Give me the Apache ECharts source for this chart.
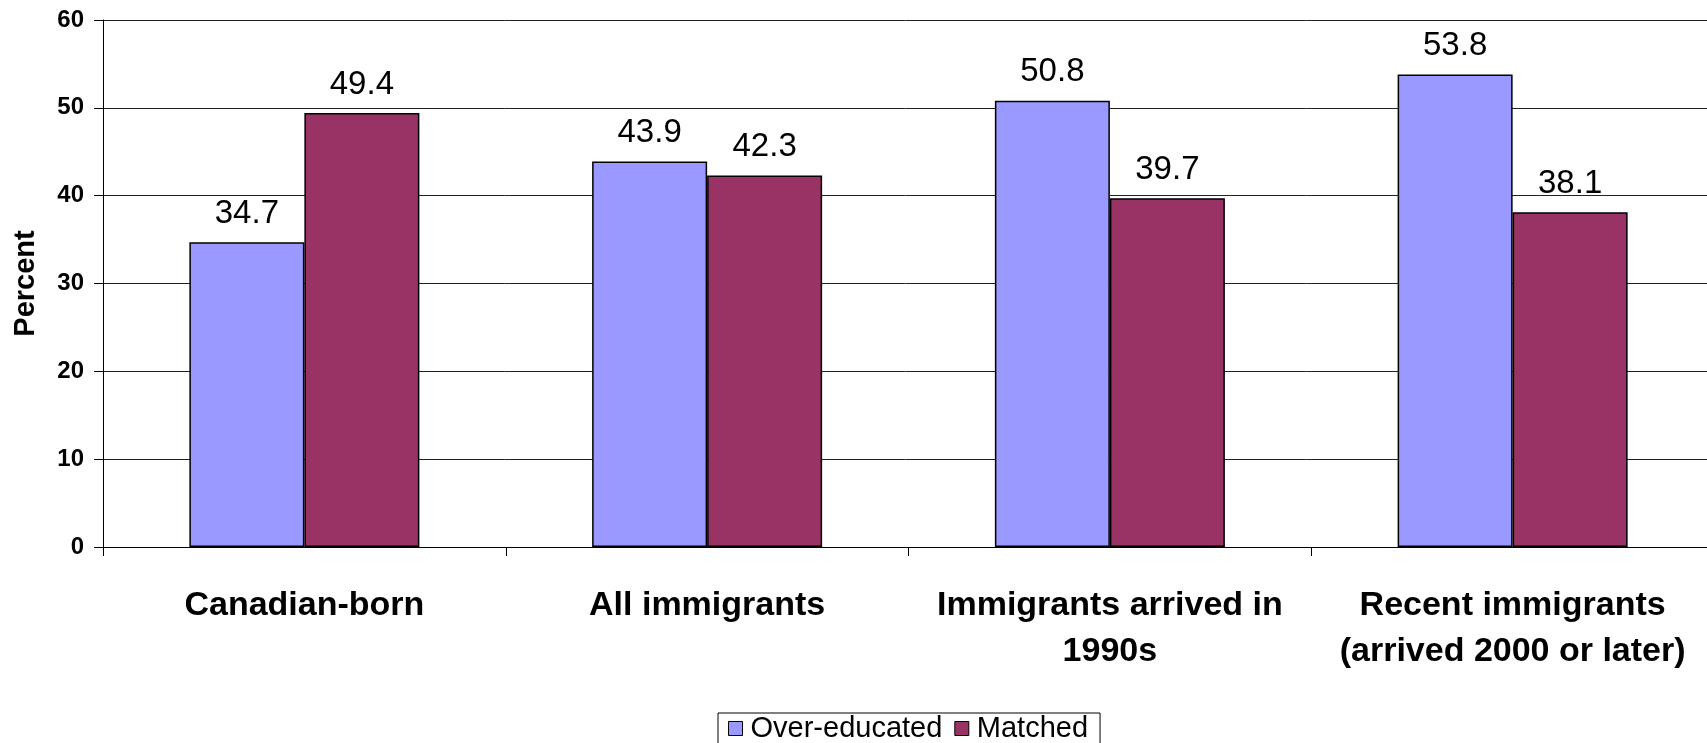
<!DOCTYPE html>
<html>
<head>
<meta charset="utf-8">
<title>Over-education by immigrant status</title>
<script src="https://cdn.jsdelivr.net/npm/echarts@6/dist/echarts.min.js"></script>
<style>
  html, body { margin: 0; padding: 0; background: #fff; }
  #chart { width: 1707px; height: 743px; }
</style>
</head>
<body>
<div id="chart"></div>
<script>
// Groups shown along the category axis
const categories = [
  'Canadian-born',
  'All immigrants',
  'Immigrants arrived in\n1990s',
  'Recent immigrants\n(arrived 2000 or later)'
];

// Share of workers (%) in each education-job match status
const overEducated = [34.7, 43.9, 50.8, 53.8];
const matched = [49.4, 42.3, 39.7, 38.1];

// Y-axis scale
const yMin = 0;
const yMax = 60;
const yStep = 10;

const FONT = '"Liberation Sans", Arial, Helvetica, sans-serif';

const chart = echarts.init(document.getElementById('chart'), null, { renderer: 'canvas' });

const valueLabel = {
  show: true,
  position: 'top',
  distance: 12,
  fontFamily: FONT,
  fontSize: 33,
  color: '#000',
  formatter: p => p.value.toFixed(1)
};

chart.setOption({
  backgroundColor: '#fff',
  animation: false,
  // plot area runs slightly past the right edge of the canvas
  grid: {
    left: 103, width: 1611, top: 20, height: 527,
    containLabel: false,
    outerBoundsMode: 'none'
  },
  legend: {
    data: ['Over-educated', 'Matched'],
    left: 718,
    top: 713,
    orient: 'horizontal',
    padding: [1, 12, 14, 10],
    itemGap: 12,
    itemWidth: 14,
    itemHeight: 14,
    borderColor: '#000',
    borderWidth: 1,
    icon: 'rect',
    itemStyle: { borderColor: '#000', borderWidth: 1 },
    textStyle: {
      fontFamily: FONT, fontSize: 29, lineHeight: 27, color: '#000',
      padding: [0, 0, 0, 3]
    }
  },
  xAxis: {
    type: 'category',
    data: categories,
    axisLine: { show: true, lineStyle: { color: '#000', width: 1 } },
    axisTick: { show: true, length: 9, alignWithLabel: false, lineStyle: { color: '#000' } },
    axisLabel: {
      interval: 0,
      margin: 36,
      fontFamily: FONT,
      fontSize: 34,
      fontWeight: 'bold',
      lineHeight: 46,
      color: '#000'
    },
    splitLine: { show: false }
  },
  yAxis: {
    type: 'value',
    min: yMin,
    max: yMax,
    interval: yStep,
    name: 'Percent',
    nameLocation: 'middle',
    nameGap: 63,
    nameRotate: 90,
    nameTextStyle: { fontFamily: FONT, fontSize: 29, fontWeight: 'bold', color: '#000' },
    axisLine: { show: true, lineStyle: { color: '#000', width: 1 } },
    axisTick: { show: true, length: 9, lineStyle: { color: '#000' } },
    axisLabel: {
      margin: 19,
      fontFamily: FONT,
      fontSize: 24,
      fontWeight: 'bold',
      color: '#000'
    },
    splitLine: { show: true, lineStyle: { color: '#222', width: 1 } }
  },
  series: [
    {
      name: 'Over-educated',
      type: 'bar',
      data: overEducated,
      barWidth: 115,
      barGap: '0%',
      itemStyle: { color: '#9999FF', borderColor: '#000', borderWidth: 1.5 },
      label: valueLabel
    },
    {
      name: 'Matched',
      type: 'bar',
      data: matched,
      barWidth: 115,
      barGap: '0%',
      itemStyle: { color: '#993366', borderColor: '#000', borderWidth: 1.5 },
      label: valueLabel
    }
  ]
});
</script>
</body>
</html>
